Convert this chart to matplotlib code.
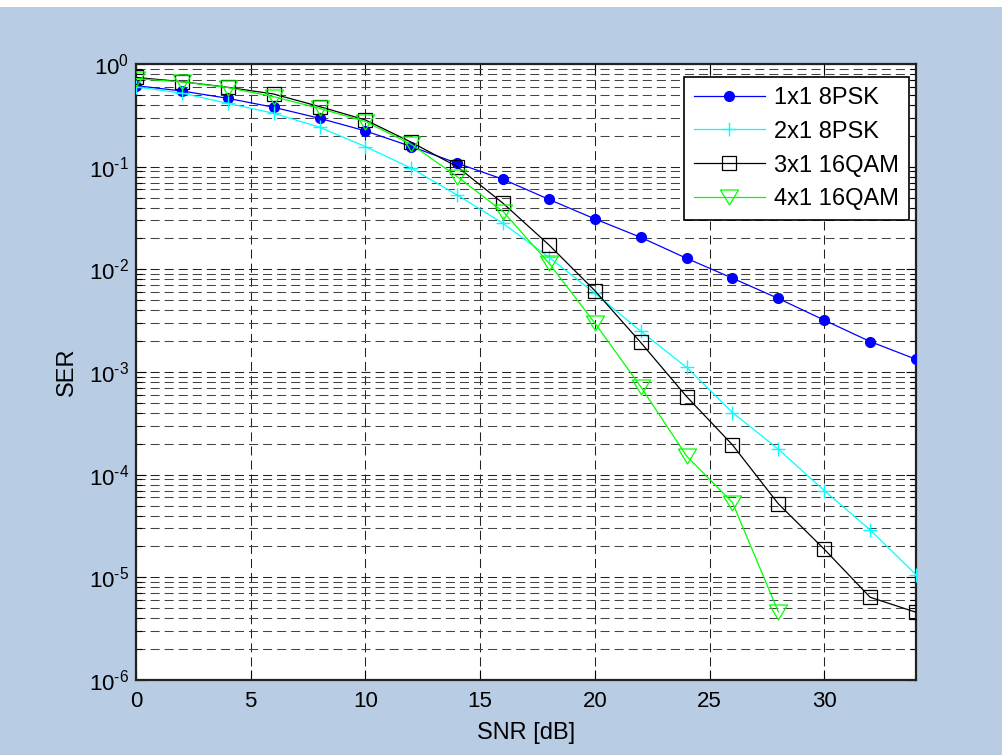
import matplotlib
matplotlib.use("Agg")
import matplotlib.pyplot as plt
from matplotlib.ticker import FixedLocator, FixedFormatter, LogLocator, NullFormatter
from matplotlib.patches import Rectangle

# ---- data ----
snr = [0, 2, 4, 6, 8, 10, 12, 14, 16, 18, 20, 22, 24, 26, 28, 30, 32, 34]
snr_4x1 = [0, 2, 4, 6, 8, 10, 12, 14, 16, 18, 20, 22, 24, 26, 28]
ser_1x1_8psk = [0.615, 0.546, 0.463, 0.379, 0.296, 0.223, 0.157, 0.108, 0.0754, 0.048,
                0.031, 0.0205, 0.0128, 0.0082, 0.0052, 0.0032, 0.00198, 0.00133]
ser_2x1_8psk = [0.60, 0.52, 0.414, 0.331, 0.242, 0.157, 0.0965, 0.053, 0.028, 0.0131,
                0.00585, 0.0025, 0.00111, 4.03e-4, 1.77e-4, 7.0e-5, 2.9e-5, 1.06e-5]
ser_3x1_16qam = [0.74, 0.673, 0.593, 0.51, 0.385, 0.285, 0.173, 0.100, 0.044, 0.0173,
                 0.0062, 0.00194, 5.77e-4, 1.95e-4, 5.2e-5, 1.88e-5, 6.4e-6, 4.57e-6]
ser_4x1_16qam = [0.72, 0.67, 0.59, 0.48, 0.37, 0.275, 0.165, 0.080, 0.0365, 0.0115,
                 0.003, 7.2e-4, 1.52e-4, 5.35e-5, 4.6e-6]
labels = ["1x1 8PSK", "2x1 8PSK", "3x1 16QAM", "4x1 16QAM"]
xticks = [0, 5, 10, 15, 20, 25, 30]
yticks = [1e-6, 1e-5, 1e-4, 1e-3, 1e-2, 1e-1, 1e0]
yexps = ["\u20106", "\u20105", "\u20104", "\u20103", "\u20102", "\u20101", "0"]

plt.rcParams['font.family'] = ['Liberation Sans', 'DejaVu Sans']
plt.rcParams['mathtext.fontset'] = 'custom'
plt.rcParams['mathtext.rm'] = 'Liberation Sans'
plt.rcParams['mathtext.it'] = 'Liberation Sans:italic'
plt.rcParams['mathtext.bf'] = 'Liberation Sans:bold'

yticklabels = [r"$\mathregular{10^{%s}}$" % e for e in yexps]

bg = '#b8cce4'
fig = plt.figure(figsize=(10.02, 7.55), dpi=100, facecolor=bg)
fig.patches.append(Rectangle((0, 748 / 755), 1, 7 / 755, transform=fig.transFigure,
                             facecolor='white', edgecolor='none', zorder=-1))
ax = fig.add_axes([136 / 1002, 1 - 680 / 755, (916 - 136) / 1002, (680 - 64) / 755])
ax.set_facecolor('white')

tri = [(-1, 0.83), (1, 0.83), (0, -0.83), (-1, 0.83)]

ax.semilogy(snr, ser_1x1_8psk, color='#0000ff', lw=0.9, marker='o', ms=7,
            mfc='#0000ff', mec='#0000ff', label=labels[0], zorder=3)
ax.semilogy(snr, ser_2x1_8psk, color='#00ffff', lw=0.9, marker='+', ms=10,
            mew=1.0, label=labels[1], zorder=3)
ax.semilogy(snr, ser_3x1_16qam, color='black', lw=0.9, marker='s', ms=10.5,
            mfc='none', mec='black', mew=0.9, label=labels[2], zorder=3)
ax.semilogy(snr_4x1, ser_4x1_16qam, color='#00ff00', lw=0.9, marker=tri, ms=13,
            mfc='none', mec='#00ff00', mew=0.9, label=labels[3], zorder=3)

ax.set_xlim(0, 34)
ax.set_ylim(1e-6, 1e0)
ax.xaxis.set_major_locator(FixedLocator(xticks))
ax.set_xticklabels([str(t) for t in xticks])
ax.yaxis.set_major_locator(FixedLocator(yticks))
ax.yaxis.set_major_formatter(FixedFormatter(yticklabels))
ax.yaxis.set_minor_locator(LogLocator(base=10, subs=range(2, 10), numticks=20))
ax.yaxis.set_minor_formatter(NullFormatter())

ax.tick_params(axis='both', which='both', direction='in', top=True, right=True,
               labelsize=16)
ax.tick_params(axis='x', pad=8)
ax.tick_params(axis='y', pad=5)
ax.tick_params(which='major', length=7, width=0.8)
ax.tick_params(which='minor', length=4, width=0.8)

gstyle = (0, (8.7, 4.8))
ax.grid(True, which='major', axis='both', color='#222222', lw=0.75, linestyle=gstyle)
ax.grid(True, which='minor', axis='y', color='#444444', lw=0.75, linestyle=gstyle)
ax.set_axisbelow(True)

for s in ax.spines.values():
    s.set_linewidth(1.6)
    s.set_color('#222222')

ax.set_xlabel('SNR [dB]', fontsize=17, labelpad=7)
ax.set_ylabel('SER', fontsize=17, labelpad=8)

leg = ax.legend(loc='upper right', bbox_to_anchor=((909 - 136) / 780, 1 - (77 - 64) / 616),
                borderaxespad=0, fontsize=17, handlelength=3.0, labelspacing=0.5,
                fancybox=False, framealpha=1, edgecolor='black', borderpad=0.42,
                handletextpad=0.4)
leg.get_frame().set_linewidth(1.2)

fig.savefig('out.png', dpi=100, facecolor=bg)
